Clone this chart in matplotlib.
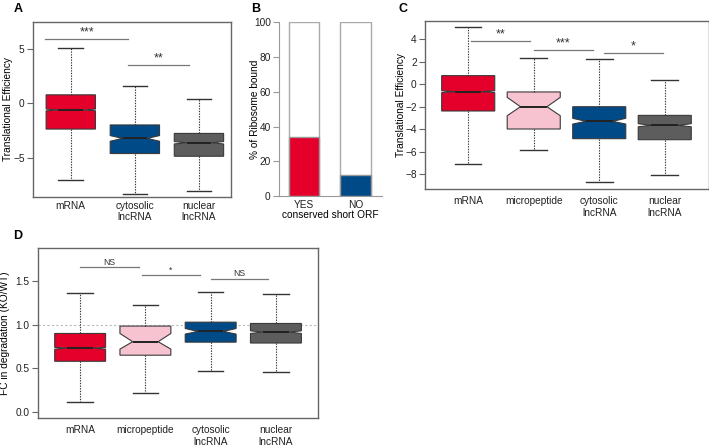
import matplotlib
matplotlib.use("Agg")
import matplotlib.pyplot as plt

plt.rcParams['font.family'] = ['Liberation Sans', 'DejaVu Sans']
plt.rcParams['font.size'] = 7.3

# ---- data ----
red = "#e4002b"
blue = "#004a88"
grey = "#5d5d5d"
pink = "#f7c3d1"

# panel A: translational efficiency (box stats)
a_labels = ["mRNA", "cytosolic\nlncRNA", "nuclear\nlncRNA"]
a_whishi = [5.1, 1.55, 0.4]
a_q3 = [0.77, -2.0, -2.78]
a_med = [-0.62, -3.24, -3.64]
a_q1 = [-2.38, -4.63, -4.88]
a_whislo = [-7.1, -8.33, -8.09]
a_cilo = [-0.7, -3.5, -3.75]
a_cihi = [-0.54, -2.98, -3.53]
a_colors = [red, blue, grey]

# panel B: % ribosome bound
b_labels = ["YES", "NO"]
b_values = [34, 12]
b_colors = [red, blue]

# panel C: translational efficiency incl. micropeptide
c_labels = ["mRNA", "micropeptide", "cytosolic\nlncRNA", "nuclear\nlncRNA"]
c_whishi = [5.07, 2.37, 2.28, 0.36]
c_q3 = [0.77, -0.68, -1.99, -2.76]
c_med = [-0.65, -1.99, -3.29, -3.64]
c_q1 = [-2.37, -3.97, -4.83, -4.92]
c_whislo = [-7.08, -5.81, -8.71, -8.03]
c_cilo = [-0.73, -2.79, -3.53, -3.77]
c_cihi = [-0.57, -1.16, -3.02, -3.5]
c_colors = [red, pink, blue, grey]

# panel D: FC in degradation
d_labels = ["mRNA", "micropeptide", "cytosolic\nlncRNA", "nuclear\nlncRNA"]
d_whishi = [1.37, 1.226, 1.375, 1.35]
d_q3 = [0.90, 0.985, 1.03, 1.015]
d_med = [0.73, 0.805, 0.923, 0.916]
d_q1 = [0.58, 0.65, 0.80, 0.79]
d_whislo = [0.107, 0.218, 0.47, 0.46]
d_cilo = [0.72, 0.72, 0.893, 0.90]
d_cihi = [0.74, 0.90, 0.957, 0.93]
d_colors = [red, pink, blue, grey]

# significance brackets: (x1, x2, y, text)
a_sig = [(0.6, 1.9, 5.95, "***"), (1.9, 2.85, 3.55, "**")]
c_sig = [(1.05, 1.95, 3.82, "**"), (2.0, 2.9, 3.08, "***"), (3.07, 3.97, 2.78, "*")]
d_sig = [(1.0, 1.9, 1.66, "NS"), (1.95, 2.83, 1.57, "*"), (3.0, 3.88, 1.53, "NS")]


def boxpanel(ax, labels, whishi, q3, med, q1, whislo, cilo, cihi, colors, width, xpad):
    stats = []
    for i in range(len(labels)):
        stats.append(dict(whishi=whishi[i], q3=q3[i], med=med[i], q1=q1[i],
                          whislo=whislo[i], cilo=cilo[i], cihi=cihi[i],
                          fliers=[], label=labels[i]))
    pos = list(range(1, len(labels) + 1))
    bp = ax.bxp(stats, positions=pos, widths=width, shownotches=True, patch_artist=True,
                showfliers=False, capwidths=width * 0.5,
                boxprops=dict(edgecolor="#3a3a3a", linewidth=0.8),
                whiskerprops=dict(color="#333333", linestyle=(0, (1.2, 1.2)), linewidth=0.8),
                capprops=dict(color="#333333", linewidth=1.0),
                medianprops=dict(color="#222222", linewidth=1.4))
    for patch, col in zip(bp["boxes"], colors):
        patch.set_facecolor(col)
    for sp in ax.spines.values():
        sp.set_color("#666666")
        sp.set_linewidth(1.0)
    ax.tick_params(axis="x", length=0, pad=xpad, colors="#222222")
    ax.tick_params(axis="y", length=4, width=0.8, color="#666666", labelcolor="#222222", pad=2)


def sig(ax, items, size, dy):
    for x1, x2, y, t in items:
        ax.plot([x1, x2], [y, y], color="#777777", linewidth=0.9)
        ax.text((x1 + x2) / 2, y + dy, t, ha="center", va="bottom", fontsize=size, color="#333333")


fig = plt.figure(figsize=(7.09, 4.48), dpi=100)

# ---- A ----
axA = fig.add_axes([0.0465, 0.561, 0.2793, 0.3906])
boxpanel(axA, a_labels, a_whishi, a_q3, a_med, a_q1, a_whislo, a_cilo, a_cihi, a_colors, 0.77, 3)
axA.set_xlim(0.41, 3.5)
axA.set_ylim(-8.6, 7.5)
axA.set_yticks([-5, 0, 5])
axA.set_ylabel("Translational Efficiency")
axA.yaxis.set_label_coords(-0.102, 0.5)
sig(axA, a_sig, 9, 0.05)

# ---- B ----
axB = fig.add_axes([0.3935, 0.5625, 0.1453, 0.3877])
xb = range(len(b_labels))
axB.bar(xb, [100] * len(b_labels), width=0.59, color="white", edgecolor="#aaaaaa", linewidth=1.0)
axB.bar(xb, b_values, width=0.59, color=b_colors, edgecolor="#999999", linewidth=1.0)
axB.set_xlim(-0.485, 1.515)
axB.set_ylim(0, 100)
axB.set_yticks([0, 20, 40, 60, 80, 100])
axB.set_xticks(list(xb))
axB.set_xticklabels(b_labels)
axB.set_xlabel("conserved short ORF", labelpad=0)
axB.set_ylabel("% of Ribosome bound")
axB.yaxis.set_label_coords(-0.189, 0.5)
for s in ["top", "right"]:
    axB.spines[s].set_visible(False)
for s in ["left", "bottom"]:
    axB.spines[s].set_color("#999999")
axB.tick_params(axis="x", length=0, pad=3, colors="#222222")
axB.tick_params(axis="y", length=4, color="#999999", labelcolor="#222222", pad=2)

# ---- C ----
axC = fig.add_axes([0.5994, 0.5781, 0.4001, 0.3757])
boxpanel(axC, c_labels, c_whishi, c_q3, c_med, c_q1, c_whislo, c_cilo, c_cihi, c_colors, 0.81, 5)
axC.set_xlim(0.34, 4.67)
axC.set_ylim(-9.3, 5.65)
axC.set_yticks([-8, -6, -4, -2, 0, 2, 4])
axC.set_ylabel("Translational Efficiency")
axC.yaxis.set_label_coords(-0.066, 0.5)
sig(axC, c_sig, 9, 0.05)

# ---- D ----
axD = fig.add_axes([0.0532, 0.0663, 0.3958, 0.3795])
axD.axhline(1.0, color="#bbbbbb", linestyle=(0, (2, 2)), linewidth=0.8, zorder=0)
boxpanel(axD, d_labels, d_whishi, d_q3, d_med, d_q1, d_whislo, d_cilo, d_cihi, d_colors, 0.78, 5)
axD.set_xlim(0.35, 4.65)
axD.set_ylim(-0.076, 1.88)
axD.set_yticks([0.0, 0.5, 1.0, 1.5])
axD.set_yticklabels(["0.0", "0.5", "1.0", "1.5"])
axD.set_ylabel("FC in degradation (KO/WT)")
axD.yaxis.set_label_coords(-0.098, 0.5)
sig(axD, d_sig, 6.2, 0.01)

# panel letters
for x, y, t in [(0.019, 0.981, "A"), (0.354, 0.981, "B"), (0.562, 0.981, "C"), (0.018, 0.474, "D")]:
    fig.text(x, y, t, fontsize=9, fontweight="bold", ha="left", va="center")

fig.savefig("out.png", dpi=100)
